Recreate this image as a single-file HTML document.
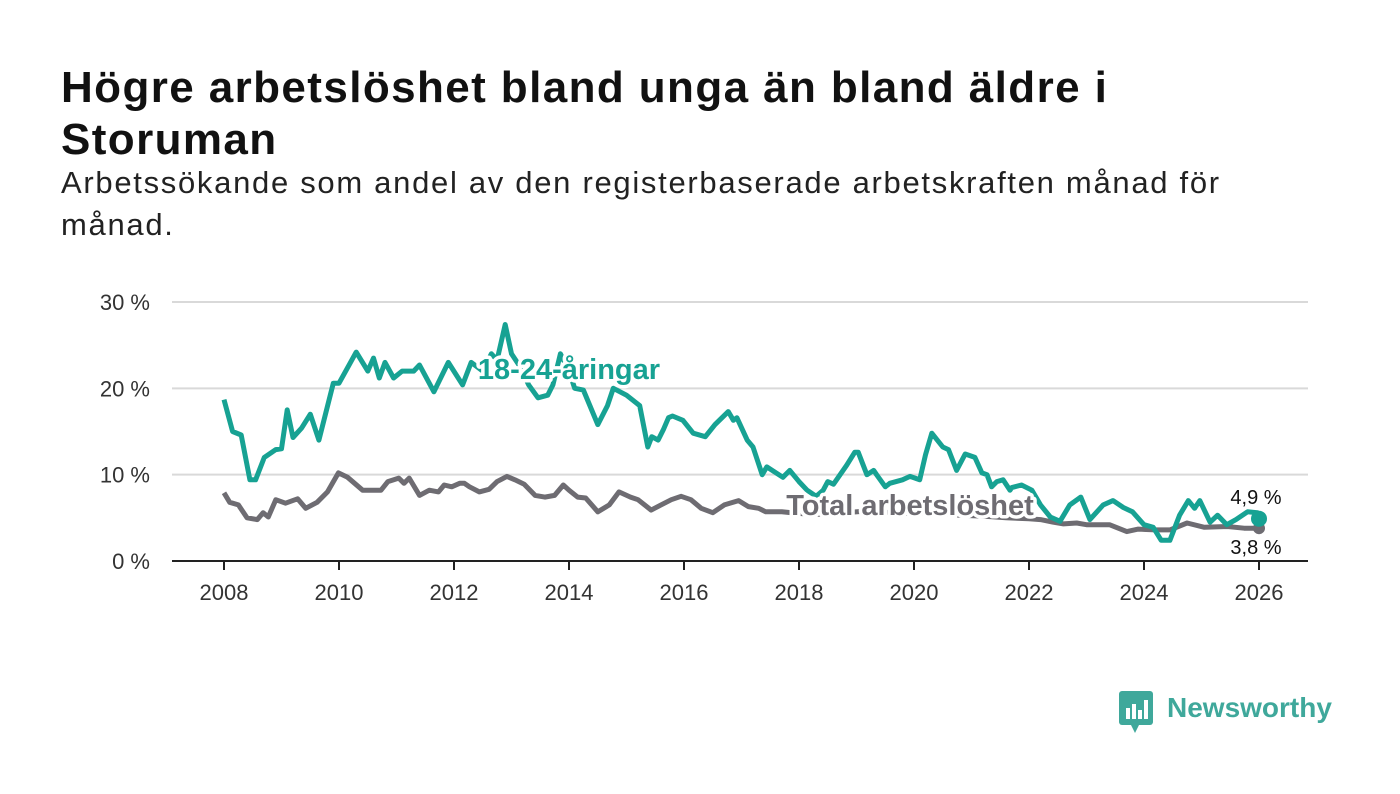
<!DOCTYPE html>
<html><head><meta charset="utf-8">
<style>
body{margin:0;background:#fff;width:1400px;height:794px;overflow:hidden;font-family:"Liberation Sans",sans-serif;}
h1{position:absolute;left:61px;top:62px;margin:0;font-size:44px;line-height:52px;font-weight:bold;color:#111;width:1300px;white-space:nowrap;letter-spacing:1.4px;}
.sub{position:absolute;left:61px;top:162px;margin:0;font-size:31px;line-height:42px;color:#222;width:1300px;white-space:nowrap;letter-spacing:1.7px;}
</style></head><body>
<h1>Högre arbetslöshet bland unga än bland äldre i<br>Storuman</h1>
<p class="sub">Arbetssökande som andel av den registerbaserade arbetskraften månad för<br>månad.</p>
<svg id="chart" width="1400" height="794" style="position:absolute;left:0;top:0" xmlns="http://www.w3.org/2000/svg"></svg>
<div style="position:absolute;left:1119px;top:691px;">
<svg width="36" height="44"><rect x="0" y="0" width="34" height="34" rx="3" fill="#3fa89b"/><polygon points="12,34 20,34 16,42" fill="#3fa89b"/><rect x="7" y="17" width="4" height="11" fill="#fff"/><rect x="13" y="13" width="4" height="15" fill="#fff"/><rect x="19" y="19" width="4" height="9" fill="#fff"/><rect x="25" y="9" width="4" height="19" fill="#fff"/></svg>
<span style="position:absolute;left:48px;top:1px;font-size:28px;font-weight:bold;color:#3fa89b;">Newsworthy</span>
</div>
<script>
const youthDates=[2008.0,2008.15,2008.3,2008.45,2008.55,2008.7,2008.9,2009.0,2009.1,2009.2,2009.35,2009.5,2009.65,2009.9,2010.0,2010.2,2010.3,2010.5,2010.6,2010.7,2010.8,2010.95,2011.1,2011.3,2011.4,2011.65,2011.9,2012.15,2012.3,2012.5,2012.65,2012.75,2012.89,2013.0,2013.15,2013.3,2013.46,2013.63,2013.72,2013.85,2014.0,2014.1,2014.25,2014.5,2014.67,2014.77,2015.0,2015.23,2015.37,2015.44,2015.55,2015.64,2015.73,2015.8,2015.98,2016.16,2016.37,2016.54,2016.77,2016.86,2016.92,2017.1,2017.2,2017.36,2017.44,2017.72,2017.84,2018.0,2018.14,2018.3,2018.42,2018.5,2018.6,2018.83,2018.97,2019.03,2019.18,2019.3,2019.35,2019.5,2019.58,2019.8,2019.93,2020.02,2020.1,2020.2,2020.31,2020.5,2020.6,2020.74,2020.89,2021.06,2021.18,2021.27,2021.35,2021.44,2021.55,2021.67,2021.7,2021.87,2022.05,2022.2,2022.37,2022.54,2022.71,2022.9,2023.06,2023.29,2023.46,2023.64,2023.8,2024.0,2024.16,2024.3,2024.45,2024.62,2024.77,2024.88,2024.97,2025.15,2025.28,2025.44,2025.6,2025.8,2025.97,2026.0];
const youthValues=[18.7,15,14.6,9.4,9.4,12,12.9,13,17.5,14.3,15.4,17,14,20.6,20.6,23,24.2,22,23.5,21.2,23,21.2,22,22,22.7,19.6,23,20.4,23,22,24,23.3,27.4,24,22.5,20.4,18.9,19.2,20.4,24,22,20,19.8,15.8,18,20,19.2,18,13.2,14.4,14,15.2,16.6,16.8,16.3,14.8,14.4,15.8,17.3,16.3,16.6,14,13.2,10,10.9,9.7,10.5,9.2,8.2,7.5,8.2,9.2,8.9,11.1,12.6,12.6,10,10.5,10,8.6,9,9.4,9.8,9.6,9.4,12.3,14.8,13.2,12.9,10.5,12.4,12,10.2,10,8.6,9.2,9.4,8.2,8.5,8.8,8.2,6.5,5.1,4.6,6.5,7.4,4.8,6.5,7,6.2,5.7,4.2,3.9,2.4,2.4,5.3,7,6.1,7,4.5,5.3,4.2,4.8,5.7,5.6,4.9];
const totalDates=[2008.0,2008.1,2008.25,2008.4,2008.58,2008.68,2008.77,2008.9,2009.07,2009.28,2009.42,2009.62,2009.8,2009.99,2010.15,2010.41,2010.6,2010.73,2010.85,2011.04,2011.13,2011.22,2011.4,2011.57,2011.73,2011.83,2011.96,2012.1,2012.18,2012.27,2012.44,2012.61,2012.75,2012.92,2013.06,2013.22,2013.41,2013.58,2013.75,2013.9,2014.0,2014.15,2014.29,2014.5,2014.7,2014.87,2015.07,2015.2,2015.43,2015.6,2015.78,2015.95,2016.12,2016.3,2016.5,2016.7,2016.95,2017.12,2017.3,2017.42,2017.7,2018.0,2018.4,2018.8,2019.2,2019.6,2020.0,2020.4,2020.8,2021.2,2021.6,2022.0,2022.2,2022.42,2022.6,2022.83,2023.0,2023.4,2023.7,2023.9,2024.2,2024.45,2024.75,2025.05,2025.45,2025.74,2026.0];
const totalValues=[7.9,6.8,6.5,5.0,4.8,5.6,5.1,7.1,6.7,7.2,6.1,6.8,8.0,10.2,9.7,8.2,8.2,8.2,9.2,9.6,9.0,9.6,7.6,8.2,8.0,8.8,8.6,9.0,9.0,8.6,8.0,8.3,9.2,9.8,9.4,8.9,7.6,7.4,7.6,8.8,8.2,7.4,7.3,5.7,6.5,8.0,7.4,7.1,5.9,6.5,7.1,7.5,7.1,6.1,5.6,6.5,7.0,6.3,6.1,5.7,5.7,5.5,5.4,5.6,5.8,5.6,5.5,5.5,5.3,5.2,5.0,4.9,4.8,4.5,4.3,4.4,4.2,4.2,3.4,3.7,3.6,3.6,4.4,3.9,4.0,3.8,3.8];
const yTicks=[0,10,20,30];
const yTickLabels=["0 %","10 %","20 %","30 %"];
const xTicks=[2008,2010,2012,2014,2016,2018,2020,2022,2024,2026];

const NS="http://www.w3.org/2000/svg";
const svg=document.getElementById('chart');
const X=d=>224+(d-2008)*57.5;
const Y=v=>561-v*8.633;
function mk(tag,attrs,parent){const e=document.createElementNS(NS,tag);for(const k in attrs)e.setAttribute(k,attrs[k]);(parent||svg).appendChild(e);return e;}

yTicks.forEach((t,i)=>{
  if(t>0){const g=mk('line',{x1:172,x2:1308,y1:Y(t),y2:Y(t),stroke:'#d9d9d9','stroke-width':2});
  
  }
  const l=mk('text',{x:150,y:Y(t)+8,'text-anchor':'end','font-size':22,fill:'#333','font-family':'Liberation Sans, sans-serif'});
  l.textContent=yTickLabels[i];
  
  
});
const ax=mk('line',{x1:172,x2:1308,y1:561,y2:561,stroke:'#222','stroke-width':2});


xTicks.forEach(t=>{
  const tk=mk('line',{x1:X(t),x2:X(t),y1:561,y2:570,stroke:'#222','stroke-width':2});
  
  
  const l=mk('text',{x:X(t),y:600,'text-anchor':'middle','font-size':22,fill:'#333','font-family':'Liberation Sans, sans-serif'});
  l.textContent=t;
  
  
});
function path(ds,vs){return ds.map((d,i)=>(i?'L':'M')+X(d).toFixed(1)+' '+Y(vs[i]).toFixed(1)).join(' ');}
const tl=mk('path',{d:path(totalDates,totalValues),fill:'none',stroke:'#6e6c72','stroke-width':5,'stroke-linejoin':'round'});


const yl=mk('path',{d:path(youthDates,youthValues),fill:'none',stroke:'#17a293','stroke-width':5,'stroke-linejoin':'round'});


const tdot=mk('circle',{cx:X(totalDates[totalDates.length-1]),cy:Y(totalValues[totalValues.length-1]),r:6,fill:'#6e6c72'});


const ydot=mk('circle',{cx:X(youthDates[youthDates.length-1]),cy:Y(youthValues[youthValues.length-1]),r:8,fill:'#17a293'});


function label(txt,x,y,size,color,bold,anchor,name){
  const t=mk('text',{x:x,y:y,'font-size':size,fill:color,'font-weight':bold?'bold':'normal','text-anchor':anchor,stroke:'#fff','stroke-width':7,'paint-order':'stroke','stroke-linejoin':'round','font-family':'Liberation Sans, sans-serif'});
  t.textContent=txt;
  
  
}
label('18-24-åringar',569,379,29,'#17a293',true,'middle','youth-series-label');
label('Total arbetslöshet',910,515,29,'#6e6c72',true,'middle','total-series-label');
label((youthValues[youthValues.length-1].toFixed(1)).replace('.',',')+' %',1256,504,20,'#111',false,'middle','youth-end-value');
label((totalValues[totalValues.length-1].toFixed(1)).replace('.',',')+' %',1256,554,20,'#111',false,'middle','total-end-value');
</script>
</body></html>
